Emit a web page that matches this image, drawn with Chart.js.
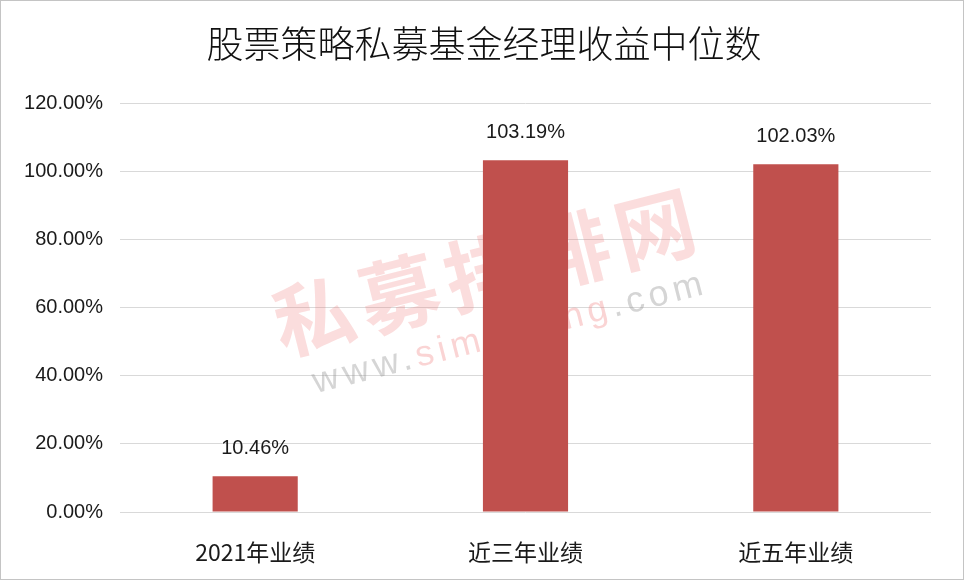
<!DOCTYPE html>
<html>
<head>
<meta charset="utf-8">
<script src="https://cdn.jsdelivr.net/npm/chart.js@4/dist/chart.umd.min.js"></script>
<style>
  html, body { margin: 0; padding: 0; background: #fff; }
  #wrap { width: 962px; height: 578px; border: 1px solid #c4c4c4; background: #fff; }
</style>
</head>
<body>
<div id="wrap"><canvas id="chart" width="962" height="578"></canvas></div>
<script>
const chartTitle = '股票策略私募基金经理收益中位数'
const categories = ['2021年业绩', '近三年业绩', '近五年业绩']
const medianReturns = [10.46, 103.19, 102.03]
const yMax = 120
const yStep = 20

const cjk = '"Noto Sans CJK SC", "Noto Sans", sans-serif'
const latin = '"Liberation Sans", Arial, sans-serif'

// title centred on the whole canvas (the built-in one follows the right padding)
const centredTitle = {
  id: 'centredTitle',
  afterDraw(chart) {
    const ctx = chart.ctx
    ctx.save()
    ctx.font = '300 37px ' + cjk
    ctx.fillStyle = '#111'
    ctx.textAlign = 'center'
    ctx.textBaseline = 'middle'
    ctx.fillText(chartTitle, chart.width / 2 + 2, 43)
    ctx.restore()
  }
}

// watermark behind the bars
const watermark = {
  id: 'watermark',
  beforeDatasetsDraw(chart) {
    const ctx = chart.ctx
    const area = chart.chartArea
    ctx.save()
    ctx.translate(area.left + 368, area.top + 168)
    ctx.rotate(-0.25)
    ctx.textAlign = 'center'
    ctx.textBaseline = 'middle'
    ctx.font = 'bold 80px ' + cjk
    ctx.letterSpacing = '8px'
    ctx.fillStyle = 'rgba(240, 120, 120, 0.25)'
    ctx.fillText('私募排排网', 0, 0)

    ctx.font = '36px ' + latin
    ctx.letterSpacing = '5px'
    const parts = [['www.', 'rgba(150,150,150,0.4)'], ['simuwang', 'rgba(240,120,120,0.32)'], ['.com', 'rgba(150,150,150,0.4)']]
    let total = 0
    parts.forEach(p => total += ctx.measureText(p[0]).width)
    let x = -total / 2 + 6
    ctx.textAlign = 'left'
    parts.forEach(p => {
      ctx.fillStyle = p[1]
      ctx.fillText(p[0], x, 66)
      x += ctx.measureText(p[0]).width
    })
    ctx.restore()
  }
}

// value labels above each bar
const barLabels = {
  id: 'barLabels',
  afterDatasetsDraw(chart) {
    const ctx = chart.ctx
    const meta = chart.getDatasetMeta(0)
    ctx.save()
    ctx.font = '20px ' + latin
    ctx.fillStyle = '#1a1a1a'
    ctx.textAlign = 'center'
    ctx.textBaseline = 'middle'
    meta.data.forEach((bar, i) => {
      ctx.fillText(medianReturns[i].toFixed(2) + '%', bar.x, bar.y - 28)
    })
    ctx.restore()
  }
}

new Chart(document.getElementById('chart'), {
  type: 'bar',
  data: {
    labels: categories,
    datasets: [{
      data: medianReturns,
      backgroundColor: '#C0504D',
      borderWidth: 0,
      categoryPercentage: 1,
      barPercentage: 0.315
    }]
  },
  options: {
    responsive: false,
    animation: false,
    layout: { padding: { left: 0, right: 32, top: 102, bottom: 0 } },
    plugins: {
      legend: { display: false },
      tooltip: { enabled: false },
      title: { display: false }
    },
    scales: {
      x: {
        grid: { display: false },
        border: { display: false },
        ticks: {
          color: '#1a1a1a',
          font: { family: cjk, size: 23 },
          padding: 18
        },
        afterFit(scale) { scale.height = 67 }
      },
      y: {
        min: 0,
        max: yMax,
        border: { display: false },
        grid: { color: '#d9d9d9', lineWidth: 1, drawTicks: false },
        ticks: {
          stepSize: yStep,
          color: '#1a1a1a',
          font: { family: latin, size: 20 },
          padding: 17,
          callback: v => v.toFixed(2) + '%'
        },
        afterFit(scale) { scale.width = 119 }
      }
    }
  },
  plugins: [centredTitle, watermark, barLabels]
})
</script>
</body>
</html>
